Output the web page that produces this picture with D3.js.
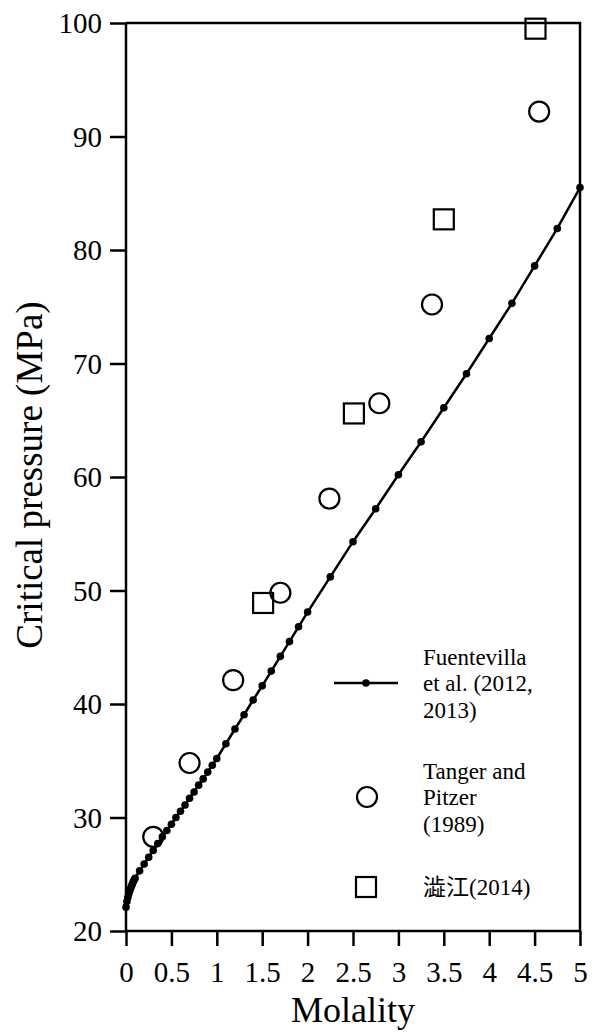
<!DOCTYPE html>
<html>
<head>
<meta charset="utf-8">
<script src="https://cdn.jsdelivr.net/npm/d3@7"></script>
<style>
  body { margin: 0; background: #fff; }
  svg { display: block; }
  text { font-family: "Liberation Serif", "Times New Roman", "Noto Sans CJK JP", serif; fill: #000; }
</style>
</head>
<body>
<script>
// Critical pressure vs molality

// Fuentevilla et al. (2012, 2013) curve
var fuenM = [0, 0.01, 0.02, 0.03, 0.04, 0.05, 0.06, 0.07, 0.08, 0.09, 0.1,
    0.15, 0.2, 0.25, 0.3, 0.35, 0.4, 0.45, 0.5, 0.55, 0.6, 0.65, 0.7, 0.75,
    0.8, 0.85, 0.9, 0.95, 1.0, 1.1, 1.2, 1.3, 1.4, 1.5, 1.6, 1.7, 1.8, 1.9,
    2.0, 2.25, 2.5, 2.75, 3.0, 3.25, 3.5, 3.75, 4.0, 4.25, 4.5, 4.75, 5.0];
var fuenP = [22.1, 22.6, 22.95, 23.25, 23.5, 23.75, 23.95, 24.15, 24.35, 24.5, 24.65,
    25.3, 25.9, 26.5, 27.1, 27.7, 28.3, 28.85, 29.4, 30.0, 30.55, 31.1, 31.7, 32.25,
    32.85, 33.4, 34.0, 34.6, 35.2, 36.5, 37.8, 39.05, 40.35, 41.6, 42.9, 44.2, 45.5, 46.8,
    48.1, 51.2, 54.3, 57.2, 60.2, 63.1, 66.1, 69.1, 72.2, 75.3, 78.6, 81.9, 85.5];

// Tanger and Pitzer (1989)
var tangerM = [0.30, 0.70, 1.18, 1.70, 2.24, 2.79, 3.37, 4.55];
var tangerP = [28.3, 34.8, 42.1, 49.8, 58.1, 66.5, 75.2, 92.2];

// 澁江 (2014)
var shibueM = [1.51, 2.51, 3.50, 4.51];
var shibueP = [48.9, 65.6, 82.7, 99.5];

var xTicks = [0, 0.5, 1, 1.5, 2, 2.5, 3, 3.5, 4, 4.5, 5];
var yTicks = [20, 30, 40, 50, 60, 70, 80, 90, 100];

var legendLabels = [
    ["Fuentevilla", "et al. (2012,", "2013)"],
    ["Tanger and", "Pitzer", "(1989)"],
    ["澁江(2014)"]
];

var margin = {top: 23, right: 12, bottom: 103, left: 126};
var width = 592 - margin.left - margin.right;
var height = 1034 - margin.top - margin.bottom;

var xScale = d3.scaleLinear().domain([0, 5]).range([0, width]);
var yScale = d3.scaleLinear().domain([20, 100]).range([height, 0]);

var svg = d3.select("body").append("svg")
    .attr("width", 592)
    .attr("height", 1034)
    .append("g")
    .attr("transform", "translate(" + margin.left + "," + margin.top + ")");

// frame (top and right)
svg.append("path")
    .attr("d", "M0,0H" + width + "V" + height)
    .attr("fill", "none")
    .attr("stroke", "#000")
    .attr("stroke-width", 2.5);

var xAxis = d3.axisBottom(xScale)
    .tickValues(xTicks)
    .tickSize(15)
    .tickFormat(function(d) { return String(d); });

var yAxis = d3.axisLeft(yScale)
    .tickValues(yTicks)
    .tickSize(16)
    .tickFormat(function(d) { return String(d); });

var gx = svg.append("g")
    .attr("transform", "translate(0," + height + ")")
    .call(xAxis);

var gy = svg.append("g").call(yAxis);

[gx, gy].forEach(function(g) {
    g.select(".domain").attr("stroke-width", 2.5).attr("d",
        g === gx ? "M0,0H" + width : "M0," + height + "V0");
    g.selectAll(".tick line").attr("stroke-width", 2.5);
    g.selectAll(".tick text")
        .style("font-family", "'Liberation Serif', 'Times New Roman', serif")
        .style("font-size", "29px")
        .attr("fill", "#000");
});
gx.selectAll(".tick text").attr("y", 51).attr("dy", 0);
gy.selectAll(".tick text").attr("x", -24).attr("dy", "0.34em");

// axis titles
svg.append("text")
    .attr("x", width / 2)
    .attr("y", height + 91)
    .attr("text-anchor", "middle")
    .style("font-size", "36px")
    .text("Molality");

svg.append("text")
    .attr("transform", "rotate(-90)")
    .attr("x", -height / 2 + 2)
    .attr("y", -84)
    .attr("text-anchor", "middle")
    .style("font-size", "37px")
    .text("Critical pressure (MPa)");

// Tanger and Pitzer circles
svg.selectAll(".tanger")
    .data(tangerM)
    .enter().append("circle")
    .attr("class", "tanger")
    .attr("cx", function(d) { return xScale(d); })
    .attr("cy", function(d, i) { return yScale(tangerP[i]); })
    .attr("r", 10)
    .attr("fill", "none")
    .attr("stroke", "#000")
    .attr("stroke-width", 2.2);

// 澁江 squares
svg.selectAll(".shibue")
    .data(shibueM)
    .enter().append("rect")
    .attr("class", "shibue")
    .attr("x", function(d) { return xScale(d) - 10; })
    .attr("y", function(d, i) { return yScale(shibueP[i]) - 10; })
    .attr("width", 20)
    .attr("height", 20)
    .attr("fill", "none")
    .attr("stroke", "#000")
    .attr("stroke-width", 2.2);

// Fuentevilla line + dots
var line = d3.line()
    .x(function(d) { return xScale(d); })
    .y(function(d, i) { return yScale(fuenP[i]); });

svg.append("path")
    .datum(fuenM)
    .attr("d", line)
    .attr("fill", "none")
    .attr("stroke", "#000")
    .attr("stroke-width", 2.5);

svg.selectAll(".fuen")
    .data(fuenM)
    .enter().append("circle")
    .attr("class", "fuen")
    .attr("cx", function(d) { return xScale(d); })
    .attr("cy", function(d, i) { return yScale(fuenP[i]); })
    .attr("r", 3.8)
    .attr("fill", "#000");

// legend
var legend = svg.append("g").attr("transform", "translate(" + (366 - margin.left) + ",0)");
var lineH = 26.5;
var legendY = [683 - margin.top, 797 - margin.top, 887 - margin.top];

legend.append("line")
    .attr("x1", -32).attr("x2", 32)
    .attr("y1", legendY[0]).attr("y2", legendY[0])
    .attr("stroke", "#000").attr("stroke-width", 2.5);
legend.append("circle")
    .attr("cx", 0).attr("cy", legendY[0]).attr("r", 3.8).attr("fill", "#000");
legend.append("circle")
    .attr("cx", 1).attr("cy", legendY[1]).attr("r", 10)
    .attr("fill", "none").attr("stroke", "#000").attr("stroke-width", 2.2);
legend.append("rect")
    .attr("x", -10).attr("y", legendY[2] - 10).attr("width", 20).attr("height", 20)
    .attr("fill", "none").attr("stroke", "#000").attr("stroke-width", 2.2);

legendLabels.forEach(function(lines, k) {
    var t = legend.append("text")
        .attr("x", 57)
        .attr("y", legendY[k] + 8 - (lines.length - 1) * lineH / 2)
        .style("font-size", "23px");
    lines.forEach(function(s, j) {
        t.append("tspan")
            .attr("x", 57)
            .attr("dy", j === 0 ? 0 : lineH)
            .text(s);
    });
});
</script>
</body>
</html>
